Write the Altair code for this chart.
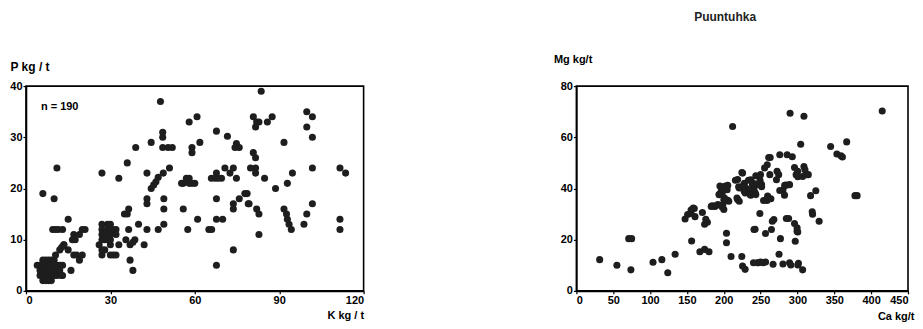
import altair as alt
import pandas as pd

FONT = "Liberation Sans"

# ---- Left panel: K kg/t (x) vs P kg/t (y) ----
k_vals = [
    # dense cluster near origin
    4, 5, 5, 5, 6, 6, 6, 6, 6, 7, 7, 7, 7, 7, 8, 8, 8, 8, 8, 9, 9, 9, 9, 9,
    10, 10, 10, 10, 11, 11, 11, 12, 12, 13, 13,
    # rising group
    16, 10.5, 12, 13.5, 15, 9.5, 10.5, 11.5, 13, 15, 17, 16.5, 17.5, 17, 18, 19, 20,
    19, 20, 21, 6, 10, 11, 12.5, 13.4, 12.7,
    # group around 25-34
    26, 27, 27, 27, 27, 27, 27, 28, 28, 28, 29, 29, 29, 30, 30, 30, 30, 30, 31, 31,
    32, 32, 32, 33, 27, 33,
    # 35-52
    36, 39, 35, 36, 36.5, 36.5, 35.5, 38.7, 37, 38, 42, 37, 38, 40, 43, 43, 43, 43,
    44.5, 44.5, 45.4, 46.2, 47, 47, 48.8, 51, 49, 49, 49, 48.6, 48.6, 48.6, 52, 50.5, 47.8,
    # 55-62
    55.9, 55.9, 57, 58, 58, 59, 60, 55.3, 57.5, 58, 60.8, 59, 59, 61.8, 61,
    # 64-80
    65, 66, 67.7, 69.9, 67.7, 73.7, 65.9, 67.2, 68.3, 69.5, 67.7, 70.7, 72.5, 73.7,
    74.8, 67.7, 71.6, 74.8, 75.8, 74.3, 73.7, 73.7, 75.8, 77.8, 79, 67.7,
    # 78-90
    83.6, 80.8, 82, 81.6, 82.8, 85.8, 87.5, 80.8, 81.6, 79.8, 81.6, 81.6, 84.8, 88.7,
    78.6, 79.3, 82, 82.8, 82.8,
    # 91-114
    91.7, 94.7, 92.9, 99.8, 101.8, 99.8, 101.8, 101.8, 111.6, 113.6, 101.8, 99.8,
    98.8, 91.7, 92.6, 92.9, 93.5, 94.3, 111.6, 111.6,
]
p_vals = [
    5, 5, 4, 3, 6, 5, 4, 3, 2, 6, 5, 4, 3, 2, 6, 5, 4, 3, 2, 6, 5, 4, 3, 2,
    6, 5, 4, 3, 5, 4, 3, 5, 4, 5, 3,
    4, 7, 8, 9, 8, 12, 12, 12, 12, 14, 11, 10, 10, 7, 7, 6, 7,
    11, 12, 12, 19, 18, 24, 3, 9, 8.5,
    9, 13, 12, 11, 10, 8, 7, 11, 10, 8, 13, 12, 10, 13, 11, 10, 9, 7, 7, 12,
    12, 11, 7, 9, 23, 22,
    25, 28, 15, 15, 16, 12, 10, 10, 9, 9.5, 9, 6, 4, 13, 12, 18, 17, 23,
    29, 20, 20.7, 21.3, 22.2, 12, 23, 24, 18, 16, 13, 31, 30, 28, 28, 28, 37,
    16, 21, 22, 22, 21, 21, 21, 21, 12, 33, 34, 28, 27, 29, 14,
    12, 12, 14, 14, 5, 8, 22, 22, 22, 22, 23, 24, 23, 24,
    22, 31.2, 30.2, 28.8, 28, 28, 17, 16, 18, 19, 17, 18,
    39, 34, 33, 32, 33, 33, 34, 27, 26, 24, 24, 23, 22, 20,
    19, 17, 16, 15, 11,
    29, 23, 21, 35, 34, 32, 30, 24, 24, 23, 17, 15,
    13, 16, 15, 14, 13, 12, 14, 12,
]

# ---- Right panel: Ca kg/t (x) vs Mg kg/t (y) ----
ca_vals = [
    31.6, 55, 71, 75, 74, 104, 116, 124, 134,
    147.5, 151, 155.6, 155.6, 160, 158.6, 161, 156.4,
    171, 174, 175.6, 177.8, 167.6, 174, 180,
    183, 187.6, 184.5, 189, 192, 197.9, 200.1, 198.8,
    194, 196.5, 193.5, 197.9, 194.8, 202.4, 201, 205.4, 204.6,
    200.1, 206.8, 205.5, 201,
    203.7, 203.7, 209.9, 212,
    217.9, 218.8, 221, 218.8, 215.8, 220.2, 221, 227, 228, 230, 227.8, 229.1,
    224.6, 225.5, 233.6, 236.7, 240.3, 239, 245.5, 251.3, 249.2, 251.4,
    235.8, 242.5, 241, 235.8, 243.5, 236.7,
    243.5, 250, 255.4, 259, 262.5, 272.3, 274.5, 271.5,
    254, 258.6, 261.7, 263.9, 259.5,
    276, 282.6, 289.3, 284.8, 280.3, 282.4,
    261, 263, 276, 286, 293,
    296, 300.4, 298.2, 300.5, 307, 311.9, 308.8, 310.2, 314.7,
    290, 308.8, 415, 304.4, 345, 366.8, 353.5, 359, 361,
    324.9, 317.8, 320, 320.5, 329.4, 378, 381,
    249, 268, 265.9, 284.9, 288, 296, 299.5, 299.5, 300.4,
    241, 242.5, 264.7, 256.6, 276.9, 297, 275,
    224.5, 225.5, 229,
    240.3, 245.6, 247, 250, 253.6, 256.7, 266.9, 280.3, 289.3, 291, 300.5, 301.3, 307,
]
mg_vals = [
    12.2, 10, 20.4, 20.4, 8.2, 11.2, 12.2, 7.1, 14.3,
    28.1, 29.8, 30.2, 31.6, 32.2, 32.4, 29, 19.5,
    30.6, 26, 28, 26.8, 15.3, 16.2, 15.3,
    33, 33, 33.2, 33.2, 33.7, 32.8, 31.8, 33.7,
    37.6, 38.9, 37.6, 38.2, 41, 41, 40.8, 41.2, 39.5,
    35.6, 35, 35.4, 36.3,
    22.5, 18.8, 13.4, 64.2,
    36.3, 35.7, 35, 43.5, 43.2, 40.7, 40.2, 41.4, 42, 40.2, 38.9, 38.2,
    46.2, 46, 43.2, 43.4, 42, 41.5, 41.5, 41.5, 43.2, 40.7,
    39.5, 38.3, 39.5, 37.6, 37.6, 37.4,
    45, 45.4, 48, 49.3, 45.4, 46.7, 45.4, 43.4,
    35.3, 35.3, 36, 36, 37,
    39.2, 41.2, 41.5, 41.3, 39.4, 37.4,
    52.1, 52.1, 53.2, 53.2, 52.4,
    48.2, 46.7, 45.4, 44.6, 44.7, 45.4, 48.6, 47.3, 45.4,
    69.4, 68.2, 70.3, 57.3, 56.4, 58.2, 53.5, 52.8, 52.3,
    39.1, 37.2, 30.9, 29.9, 27.2, 37.2, 37.2,
    30.2, 27.9, 27.2, 28.3, 28.3, 26.3, 24.6, 23.3, 23,
    24, 24.1, 24, 22.4, 20.4, 19.4, 14.3,
    13.4, 9.7, 8.4,
    11, 11, 11, 11.3, 11, 11.3, 10.4, 10.5, 11, 10.1, 10.1, 10.8, 8.2,
]

k_ticks = [0, 30, 60, 90, 120]
p_ticks = [0, 10, 20, 30, 40]
ca_ticks = [0, 50, 100, 150, 200, 250, 300, 350, 400, 450]
mg_ticks = [0, 20, 40, 60, 80]

left_df = pd.DataFrame({"K": k_vals, "P": p_vals})
right_df = pd.DataFrame({"Ca": ca_vals, "Mg": mg_vals})
note_df = pd.DataFrame({"t": ["n = 190"]})

DOT = "#1e1e1e"
W_L, W_R, H = 338, 332, 205

left_pts = alt.Chart(left_df).mark_circle(size=50, color=DOT, opacity=1).encode(
    x=alt.X("K:Q", scale=alt.Scale(domain=[0, 120], nice=False),
            axis=alt.Axis(values=k_ticks, title="K kg / t", titleX=W_L, titleY=25,
                          titleAlign="right", titleBaseline="middle")),
    y=alt.Y("P:Q", scale=alt.Scale(domain=[0, 40], nice=False),
            axis=alt.Axis(values=p_ticks, title="P kg / t", titleAngle=0, titleX=-16,
                          titleY=-20, titleAlign="left", titleBaseline="middle",
                          titleFontSize=12)),
)
note = alt.Chart(note_df).mark_text(
    align="left", baseline="middle", font=FONT, fontWeight="bold", fontSize=11, color="black"
).encode(text="t:N", x=alt.value(15), y=alt.value(21))

left = alt.layer(left_pts, note).properties(width=W_L, height=H)

right = alt.Chart(right_df).mark_circle(size=50, color=DOT, opacity=1).encode(
    x=alt.X("Ca:Q", scale=alt.Scale(domain=[0, 450], nice=False),
            axis=alt.Axis(values=ca_ticks, title="Ca kg/t", titleX=W_R + 6, titleY=26,
                          titleAlign="right", titleBaseline="middle")),
    y=alt.Y("Mg:Q", scale=alt.Scale(domain=[0, 80], nice=False),
            axis=alt.Axis(values=mg_ticks, title="Mg kg/t", titleAngle=0, titleX=-23,
                          titleY=-27, titleAlign="left", titleBaseline="middle")),
).properties(width=W_R, height=H)

chart = alt.hconcat(left, right, spacing=187).properties(
    title=alt.TitleParams("Puuntuhka", anchor="start", dx=686, offset=28,
                          font=FONT, fontSize=12, fontWeight="bold", color="#222"),
    padding={"left": 0, "top": 3, "right": 0, "bottom": 0},
).configure_view(
    stroke="black", strokeWidth=1.6
).configure_axis(
    grid=False, domainColor="black", domainWidth=1.6, tickColor="black", tickSize=3,
    tickWidth=1.2, labelFont=FONT, labelFontSize=11, labelFontWeight="bold",
    labelColor="black", labelPadding=1, titleFont=FONT, titleFontSize=11,
    titleFontWeight="bold", titleColor="black"
)

chart.save("out.html", embed_options={"renderer": "svg", "actions": False})
